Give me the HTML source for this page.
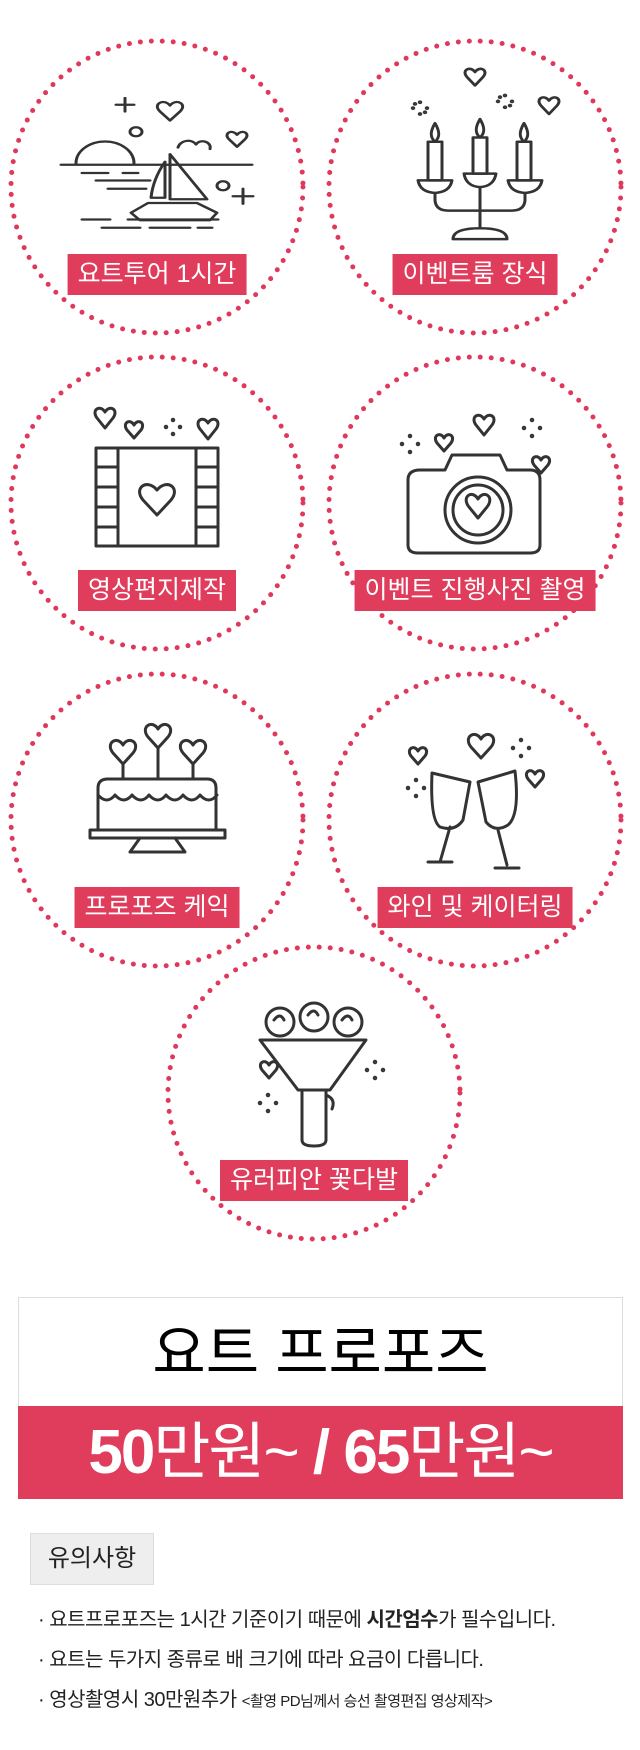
<!DOCTYPE html>
<html><head><meta charset="utf-8"><style>
*{margin:0;padding:0}
body{width:640px;height:1750px;background:#fff;position:relative;overflow:hidden;font-family:"Liberation Sans","Noto Sans CJK KR",sans-serif}
.lab{position:absolute;background:#e03c5c;color:#fff;font-size:25px;line-height:41px;height:41px;padding:0 10px;white-space:nowrap;transform:translateX(-50%)}
.box{position:absolute;left:18px;top:1297px;width:603px;height:200px;border:1px solid #ddd;border-bottom:none}
.title{position:absolute;left:0;right:0;top:0;height:108px;text-align:center;font-size:58px;line-height:112px;color:#000}
.price{position:absolute;left:-1px;right:-1px;top:108px;height:93px;background:#e03c5c;color:#fff;text-align:center;font-size:62px;font-weight:bold;line-height:93px;letter-spacing:-2px}
.note{position:absolute;left:30px;top:1533px;width:122px;height:50px;background:#eee;border:1px solid #ddd;font-size:24px;line-height:50px;text-align:center;color:#222}
.li{position:absolute;left:38px;font-size:20px;color:#222;white-space:nowrap;letter-spacing:-0.5px}
.li small{font-size:15px}
</style></head><body>
<svg width="640" height="1280" style="position:absolute;left:0;top:0" fill="none" stroke="#333" stroke-width="3" stroke-linecap="round" stroke-linejoin="round">
<g stroke="#e0385a" stroke-width="5" stroke-dasharray="0 11">
<circle cx="157" cy="187" r="146"/><circle cx="475" cy="187" r="146"/>
<circle cx="157" cy="503" r="146"/><circle cx="475" cy="503" r="146"/>
<circle cx="157" cy="820" r="146"/><circle cx="475" cy="820" r="146"/>
<circle cx="314" cy="1093" r="146"/>
</g>
<!-- yacht -->
<g transform="translate(0,98) scale(1,0.75) translate(0,-112)">
<path d="M76 199 A29 29 0 0 1 134 199"/><path d="M61 201H252"/>
<path d="M82 212H108M123 212H138M96 222H150M108 233H146"/>
<path d="M170 187V247M170 187L207 247H170M165 197Q153 220 151 245H165Z"/>
<path d="M148 252H197L217 265L210 275H140L131 265Z"/>
<path d="M82 274H110M128 274H218M102 285H140M150 285H190M198 285H212"/>
<path d="M125 112V130M116 121H134"/><circle cx="136" cy="157" r="6"/>
<path d="M160 130c-8-10 4-18 10-8c6-10 18-2 10 8l-10 12z"/>
<path d="M178 178c2-10 14-12 18-4c4-8 16-4 14 6"/>
<path d="M229 167c-6-8 3-14 8-6c5-8 14-2 8 6l-8 10z"/>
<circle cx="223" cy="229" r="6"/><path d="M243 233V253M233 243H253"/>
</g>
<!-- candelabra -->
<g transform="translate(0,72) scale(1,0.84) translate(0,-97)">
<path d="M467 103c-6-8 3-14 8-6c5-8 14-2 8 6l-8 10z"/>
<path d="M541 137c-6-8 3-14 8-6c5-8 14-2 8 6l-8 10z"/>
<g stroke-width="2.5"><circle cx="420" cy="133" r="1"/><circle cx="420" cy="147" r="1"/><circle cx="413" cy="140" r="1"/><circle cx="427" cy="140" r="1"/><circle cx="415" cy="135" r="1"/><circle cx="425" cy="145" r="1"/><circle cx="505" cy="125" r="1"/><circle cx="505" cy="139" r="1"/><circle cx="498" cy="132" r="1"/><circle cx="512" cy="132" r="1"/><circle cx="500" cy="127" r="1"/><circle cx="510" cy="137" r="1"/></g>
<path d="M428 180V226H442V180ZM435 180c-6-6-4-14 0-22c4 8 6 16 0 22"/>
<path d="M473 175V218H487V175ZM480 175c-6-6-4-14 0-22c4 8 6 16 0 22"/>
<path d="M517 180V226H531V180ZM524 180c-6-6-4-14 0-22c4 8 6 16 0 22"/>
<path d="M418 226H452Q450 240 435 241Q420 240 418 226Z"/>
<path d="M464 218H496Q494 233 480 234Q466 233 464 218Z"/>
<path d="M508 226H542Q540 240 525 241Q510 240 508 226Z"/>
<path d="M435 241V250Q436 262 448 262H512Q524 262 525 250V241M480 234V283M453 296Q453 283 480 283Q507 283 507 296Z"/>
</g>
<!-- film -->
<path d="M97 418c-6-8 3-14 8-6c5-8 14-2 8 6l-8 10z"/>
<path d="M127 430c-5-7 3-12 7-5c4-7 12-2 7 5l-7 8z"/>
<path d="M200 429c-6-8 3-14 8-6c5-8 14-2 8 6l-8 10z"/>
<g stroke-width="2.5"><circle cx="173" cy="420" r="1"/><circle cx="173" cy="434" r="1"/><circle cx="166" cy="427" r="1"/><circle cx="180" cy="427" r="1"/></g>
<rect x="96" y="448" width="122" height="98"/><path d="M118 448V546M196 448V546M96 467H118M96 487H118M96 507H118M96 527H118M196 467H218M196 487H218M196 507H218M196 527H218"/>
<path d="M143 500c-10-12 4-22 14-10c10-12 24-2 14 10l-14 15z"/>
<!-- camera -->
<path d="M476 425c-6-8 3-14 8-6c5-8 14-2 8 6l-8 10z"/>
<path d="M437 443c-5-7 3-12 7-5c4-7 12-2 7 5l-7 8z"/>
<path d="M534 465c-5-7 3-12 7-5c4-7 12-2 7 5l-7 8z"/>
<g stroke-width="2.5"><circle cx="410" cy="436" r="1"/><circle cx="410" cy="452" r="1"/><circle cx="402" cy="444" r="1"/><circle cx="418" cy="444" r="1"/><circle cx="532" cy="420" r="1"/><circle cx="532" cy="436" r="1"/><circle cx="524" cy="428" r="1"/><circle cx="540" cy="428" r="1"/></g>
<path d="M420 470H445L452 455H500L507 470H530Q540 470 540 480V545Q540 553 530 553H418Q408 553 408 545V480Q408 470 420 470Z"/>
<circle cx="478" cy="510" r="33"/><circle cx="478" cy="510" r="25"/>
<path d="M469 507c-8-10 3-18 9-8c6-10 17-2 9 8l-9 11z"/>
<!-- cake -->
<path d="M113 753c-8-10 4-18 10-8c6-10 18-2 10 8l-10 11z"/><path d="M148 737c-8-10 4-18 10-8c6-10 18-2 10 8l-10 11z"/><path d="M183 753c-8-10 4-18 10-8c6-10 18-2 10 8l-10 11z"/>
<path d="M123 764V779M158 748V779M193 764V779"/>
<path d="M98 788Q98 779 108 779H207Q216 779 216 788V830H98Z"/>
<path d="M98 795q9 10 17 0q9 10 17 0q9 10 17 0q9 10 17 0q9 10 17 0q9 10 17 0q9 10 17 0"/>
<path d="M90 830H225V838H90ZM140 838L130 852H185L175 838"/>
<!-- wine -->
<path d="M471 747c-8-10 4-18 10-8c6-10 18-2 10 8l-10 11z"/>
<path d="M411 756c-5-7 3-12 7-5c4-7 12-2 7 5l-7 8z"/><path d="M528 779c-5-7 3-12 7-5c4-7 12-2 7 5l-7 8z"/>
<g stroke-width="2.5"><circle cx="521" cy="740" r="1"/><circle cx="521" cy="756" r="1"/><circle cx="513" cy="748" r="1"/><circle cx="529" cy="748" r="1"/><circle cx="416" cy="780" r="1"/><circle cx="416" cy="796" r="1"/><circle cx="408" cy="788" r="1"/><circle cx="424" cy="788" r="1"/></g>
<path d="M432 773L470 782L463 820Q455 832 440 827Q430 820 432 773ZM450 827L440 862M428 862H452"/>
<path d="M478 782L515 771Q520 815 508 825Q495 833 486 822ZM498 830L507 865M495 868H519"/>
<!-- flowers -->
<path d="M262 1070c-5-7 3-12 7-5c4-7 12-2 7 5l-7 8z"/>
<g stroke-width="2.5"><circle cx="375" cy="1062" r="1"/><circle cx="375" cy="1078" r="1"/><circle cx="367" cy="1070" r="1"/><circle cx="383" cy="1070" r="1"/><circle cx="268" cy="1095" r="1"/><circle cx="268" cy="1111" r="1"/><circle cx="260" cy="1103" r="1"/><circle cx="276" cy="1103" r="1"/></g>
<circle cx="280" cy="1022" r="14"/><circle cx="314" cy="1017" r="14"/><circle cx="348" cy="1022" r="14"/>
<path d="M274 1020q6-8 10 0M308 1015q6-8 10 0M342 1020q6-8 10 0"/>
<path d="M260 1040L366 1040L330 1090H298Z"/><path d="M302 1090V1140Q302 1146 314 1146Q326 1146 326 1140V1090M326 1095q10 4 6 14"/>
</svg>
<div class="lab" style="left:157px;top:254px">요트투어 1시간</div>
<div class="lab" style="left:475px;top:254px">이벤트룸 장식</div>
<div class="lab" style="left:157px;top:570px">영상편지제작</div>
<div class="lab" style="left:475px;top:570px">이벤트 진행사진 촬영</div>
<div class="lab" style="left:157px;top:887px">프로포즈 케익</div>
<div class="lab" style="left:475px;top:887px">와인 및 케이터링</div>
<div class="lab" style="left:314px;top:1160px">유러피안 꽃다발</div>
<div class="box"><div class="title">요트 프로포즈</div><div class="price">50<span style="font-weight:normal">만원~</span> / 65<span style="font-weight:normal">만원~</span></div></div>
<div class="note">유의사항</div>
<div class="li" style="top:1603px">· 요트프로포즈는 1시간 기준이기 때문에 <b>시간엄수</b>가 필수입니다.</div>
<div class="li" style="top:1643px">· 요트는 두가지 종류로 배 크기에 따라 요금이 다릅니다.</div>
<div class="li" style="top:1683px">· 영상촬영시 30만원추가 <small>&lt;촬영 PD님께서 승선 촬영편집 영상제작&gt;</small></div>
</body></html>
